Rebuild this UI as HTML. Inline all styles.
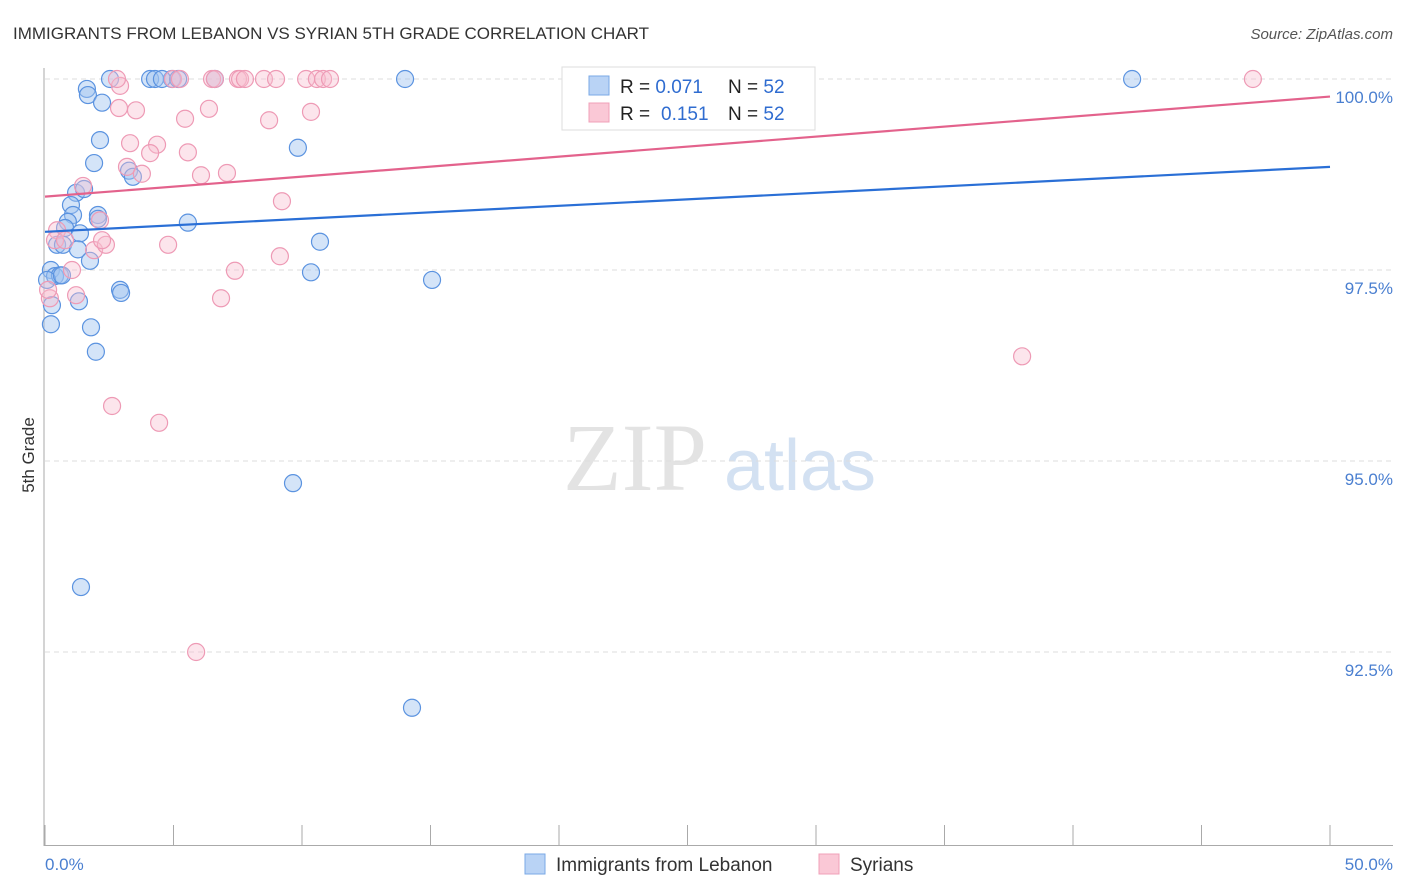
<!DOCTYPE html>
<html><head><meta charset="utf-8"><style>
body{margin:0;background:#fff;font-family:"Liberation Sans",sans-serif;}
svg{display:block}
</style></head><body>
<svg id="chart" width="1406" height="892" xmlns="http://www.w3.org/2000/svg">
<text x="13" y="39" font-size="17" fill="#333">IMMIGRANTS FROM LEBANON VS SYRIAN 5TH GRADE CORRELATION CHART</text>
<text x="1393" y="39" font-size="15" fill="#555" font-style="italic" text-anchor="end">Source: ZipAtlas.com</text>
<text x="34" y="455" font-size="17" fill="#333" text-anchor="middle" transform="rotate(-90 34 455)">5th Grade</text>
<g>
<text x="635" y="490" font-size="96" fill="#ddd" font-family="Liberation Serif,serif" text-anchor="middle" opacity="0.8">ZIP</text>
<text x="800" y="490" font-size="72" fill="#c9daf0" text-anchor="middle" opacity="0.8">atlas</text>
</g>
<g id="grid"></g>
<g id="axes"></g>
<g id="pts"></g>
<g id="trend"></g>
<g>
<rect x="562" y="67" width="253" height="63" fill="#fff" stroke="#ddd"/>
<rect x="589" y="76" width="20" height="19" fill="#b9d3f5" stroke="#7aa8e6"/>
<rect x="589" y="103" width="20" height="19" fill="#fac8d6" stroke="#f0a0b8"/>
<text x="620" y="93" font-size="19" fill="#222">R = <tspan fill="#2f6cd0">0.071</tspan><tspan x="728">N = </tspan><tspan fill="#2f6cd0">52</tspan></text>
<text x="620" y="120" font-size="19" fill="#222">R = <tspan x="661" fill="#2f6cd0">0.151</tspan><tspan x="728">N = </tspan><tspan fill="#2f6cd0">52</tspan></text>
</g>
<g>
<rect x="525" y="854" width="20" height="20" fill="#b9d3f5" stroke="#7aa8e6"/>
<text x="556" y="871" font-size="19" fill="#333">Immigrants from Lebanon</text>
<rect x="819" y="854" width="20" height="20" fill="#fac8d6" stroke="#f0a0b8"/>
<text x="850" y="871" font-size="19" fill="#333">Syrians</text>
</g>
</svg>
<script>
const yTicks=[100,97.5,95,92.5];
const yTickLabels=["100.0%","97.5%","95.0%","92.5%"];
const xTicks=[0,5,10,15,20,25,30,35,40,45,50];
const blueX=[2.53,4.94,4.09,4.28,4.55,5.18,6.61,14.01,42.30,1.63,1.67,2.22,2.14,1.91,9.84,3.27,3.42,1.21,1.52,1.01,1.09,2.06,2.06,0.89,0.78,5.56,1.36,10.70,0.47,0.70,1.28,1.75,0.23,0.39,0.58,0.08,0.66,10.35,15.06,2.92,2.96,1.32,0.27,0.23,1.79,1.98,9.65,1.40,14.28];
const blueY=[100,100,100,100,100,100,100,100,100,99.87,99.79,99.69,99.20,98.90,99.10,98.80,98.72,98.51,98.56,98.35,98.22,98.22,98.17,98.13,98.05,98.12,97.98,97.87,97.83,97.83,97.77,97.62,97.50,97.42,97.43,97.37,97.43,97.47,97.37,97.24,97.20,97.09,97.04,96.79,96.75,96.43,94.71,93.35,91.77];
const pinkX=[2.92,2.80,4.98,5.25,6.50,6.61,7.51,7.59,7.78,8.52,8.99,10.16,10.58,10.82,11.09,27.82,47.00,2.88,3.54,6.38,5.45,8.72,10.35,3.31,4.36,4.09,5.56,3.19,3.77,6.07,7.08,1.48,9.22,0.47,2.14,0.39,1.91,0.78,2.37,4.79,2.22,9.14,1.05,7.39,1.21,0.19,6.85,38.02,2.61,4.44,5.88,0.12];
const pinkY=[99.91,100,100,100,100,100,100,100,100,100,100,100,100,100,100,100,100,99.62,99.59,99.61,99.48,99.46,99.57,99.16,99.14,99.03,99.04,98.85,98.76,98.74,98.77,98.60,98.40,98.02,98.15,97.89,97.76,97.89,97.83,97.83,97.89,97.68,97.50,97.49,97.17,97.13,97.13,96.37,95.72,95.50,92.50,97.24];
const blueTrend=[98.0,98.85];
const pinkTrend=[98.46,99.77];
const NS="http://www.w3.org/2000/svg";
const X=v=>45+v*25.7, Y=v=>79+(100-v)*76.4;
function mk(tag,attrs,parent){const e=document.createElementNS(NS,tag);for(const k in attrs)e.setAttribute(k,attrs[k]);parent.appendChild(e);return e;}
const grid=document.getElementById('grid'),axes=document.getElementById('axes'),pts=document.getElementById('pts'),tr=document.getElementById('trend');
yTicks.forEach((t,i)=>{
 const l=mk('line',{x1:45,x2:1393,y1:Y(t),y2:Y(t),stroke:'#ddd','stroke-dasharray':'5,4'},grid);
 
 
 const tx=mk('text',{x:1393,y:Y(t)+24,'font-size':17,fill:'#4a7fd0','text-anchor':'end'},axes);
 tx.textContent=yTickLabels[i];
 
 
});
let a=mk('line',{x1:44,x2:44,y1:68,y2:846,stroke:'#aaa'},axes);


a=mk('line',{x1:44,x2:1393,y1:845.5,y2:845.5,stroke:'#aaa'},axes);


xTicks.forEach(t=>{const l=mk('line',{x1:X(t),x2:X(t),y1:825,y2:845,stroke:'#aaa'},axes);
 
 });
let t0=mk('text',{x:45,y:870,'font-size':17,fill:'#4a7fd0'},axes);t0.textContent=xTicks[0].toFixed(1)+'%';


let t1=mk('text',{x:1393,y:870,'font-size':17,fill:'#4a7fd0','text-anchor':'end'},axes);t1.textContent=xTicks[xTicks.length-1].toFixed(1)+'%';


blueX.forEach((x,i)=>{const c=mk('circle',{cx:X(x),cy:Y(blueY[i]),r:8.5,fill:'rgba(160,195,240,0.45)',stroke:'#5b93e0','stroke-width':1.2},pts);
 
 });
pinkX.forEach((x,i)=>{const c=mk('circle',{cx:X(x),cy:Y(pinkY[i]),r:8.5,fill:'rgba(248,190,208,0.4)',stroke:'#ee9ab5','stroke-width':1.2},pts);
 
 });
let bl=mk('line',{x1:X(0),x2:X(50),y1:Y(blueTrend[0]),y2:Y(blueTrend[1]),stroke:'#2a6fd6','stroke-width':2.2},tr);


let pl=mk('line',{x1:X(0),x2:X(50),y1:Y(pinkTrend[0]),y2:Y(pinkTrend[1]),stroke:'#e3628c','stroke-width':2.2},tr);


</script>
</body></html>
